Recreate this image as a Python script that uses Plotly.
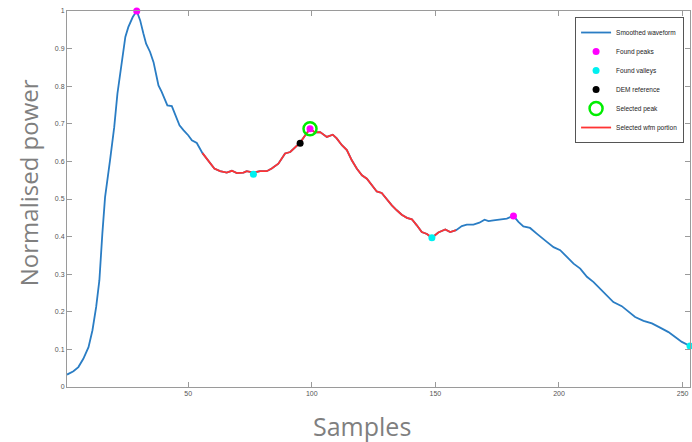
import plotly.graph_objects as go

# Smoothed waveform (sample index, normalised power)
samples = [1.0, 3.6, 5.6, 7.6, 9.7, 11.3, 12.8, 14.1, 15.3, 16.4, 18.4, 20.1, 21.4, 23.2,
           24.6, 25.8, 27.6, 29.2, 30.6, 31.9, 33.0, 34.6, 36.0, 37.0, 38.0, 39.3, 40.7,
           41.6, 43.4, 44.7, 46.5, 48.1, 50.1, 51.5, 53.5, 55.8, 58.2, 60.6, 62.9, 65.6,
           67.7, 69.7, 72.4, 73.7, 76.4, 79.1, 81.8, 83.8, 86.5, 89.2, 91.3, 93.3, 95.3,
           97.3, 99.3, 101.3, 103.4, 106.1, 108.5, 110.1, 112.2, 114.2, 116.2, 118.2,
           120.3, 122.3, 124.3, 126.3, 128.3, 130.4, 132.4, 134.4, 136.4, 138.5, 140.5,
           142.5, 144.5, 146.6, 148.6, 151.2, 154.0, 156.0, 158.4, 160.7, 162.7, 165.4,
           167.8, 169.9, 171.5, 173.5, 176.2, 178.9, 181.6, 183.6, 185.6, 188.3, 191.0,
           193.7, 195.1, 197.8, 200.5, 203.2, 205.9, 208.6, 211.3, 214.0, 216.7, 219.4,
           222.0, 225.4, 228.1, 230.8, 234.2, 237.6, 240.9, 244.3, 247.0, 249.7, 253.0]
power = [0.033, 0.042, 0.053, 0.075, 0.106, 0.151, 0.213, 0.284, 0.408, 0.505, 0.603, 0.691,
         0.780, 0.860, 0.931, 0.957, 0.984, 1.000, 0.975, 0.940, 0.913, 0.891, 0.864, 0.833,
         0.802, 0.785, 0.762, 0.749, 0.747, 0.727, 0.696, 0.683, 0.669, 0.656, 0.649, 0.622,
         0.603, 0.581, 0.574, 0.570, 0.575, 0.569, 0.570, 0.574, 0.570, 0.574, 0.574, 0.581,
         0.594, 0.621, 0.625, 0.638, 0.650, 0.669, 0.687, 0.677, 0.678, 0.665, 0.671, 0.661,
         0.643, 0.630, 0.603, 0.581, 0.563, 0.554, 0.536, 0.520, 0.516, 0.498, 0.483, 0.470,
         0.458, 0.450, 0.446, 0.430, 0.412, 0.407, 0.397, 0.411, 0.419, 0.412, 0.417, 0.428,
         0.432, 0.432, 0.437, 0.445, 0.441, 0.443, 0.445, 0.448, 0.455, 0.439, 0.427, 0.423,
         0.408, 0.395, 0.386, 0.372, 0.364, 0.346, 0.328, 0.315, 0.293, 0.279, 0.262, 0.244,
         0.226, 0.215, 0.200, 0.186, 0.176, 0.169, 0.158, 0.146, 0.133, 0.120, 0.109]

peaks_x = [29.2, 99.3, 181.6]
peaks_y = [1.0, 0.687, 0.455]
valleys_x = [76.4, 148.6, 253.0]
valleys_y = [0.566, 0.397, 0.109]
dem_x = [95.3]
dem_y = [0.648]
sel_peak_x = [99.3]
sel_peak_y = [0.687]
portion_start = 55.8
portion_end = 158.4

x_ticks = [50, 100, 150, 200, 250]
y_ticks = [0, 0.1, 0.2, 0.3, 0.4, 0.5, 0.6, 0.7, 0.8, 0.9, 1]
y_tick_text = ["0", "0.1", "0.2", "0.3", "0.4", "0.5", "0.6", "0.7", "0.8", "0.9", "1"]

red_x = [s for s in samples if portion_start <= s <= portion_end]
red_y = [p for s, p in zip(samples, power) if portion_start <= s <= portion_end]

fig = go.Figure()
fig.add_trace(go.Scatter(x=samples, y=power, mode="lines", name="Smoothed waveform",
                         line=dict(color="#2a7dc4", width=1.8), legendrank=1))
fig.add_trace(go.Scatter(x=red_x, y=red_y, mode="lines", name="Selected wfm portion",
                         line=dict(color="#ff3333", width=1.8), legendrank=6))
fig.add_trace(go.Scatter(x=peaks_x, y=peaks_y, mode="markers", name="Found peaks",
                         marker=dict(color="#ff00ff", size=7), cliponaxis=False, legendrank=2))
fig.add_trace(go.Scatter(x=valleys_x, y=valleys_y, mode="markers", name="Found valleys",
                         marker=dict(color="#00f0f0", size=7), cliponaxis=False, legendrank=3))
fig.add_trace(go.Scatter(x=dem_x, y=dem_y, mode="markers", name="DEM reference",
                         marker=dict(color="#000000", size=7), cliponaxis=False, legendrank=4))
fig.add_trace(go.Scatter(x=sel_peak_x, y=sel_peak_y, mode="markers", name="Selected peak",
                         marker=dict(color="#00ee00", size=13, symbol="circle-open",
                                     line=dict(width=2.5)),
                         cliponaxis=False, legendrank=5))

axis_common = dict(showline=True, linecolor="#9a9a9a", linewidth=1, mirror="ticks",
                   ticks="inside", ticklen=5, tickcolor="#9a9a9a", showgrid=False,
                   zeroline=False, tickfont=dict(family="Liberation Sans, Arial", size=7,
                                                 color="#555555"))

fig.update_layout(
    width=692, height=442,
    margin=dict(l=67, r=2, t=11, b=55, autoexpand=False),
    paper_bgcolor="white", plot_bgcolor="white",
    xaxis=dict(range=[1, 253], tickvals=x_ticks, **axis_common),
    yaxis=dict(range=[0, 1], tickvals=y_ticks, ticktext=y_tick_text, **axis_common),
    showlegend=True,
    legend=dict(x=0.9905, y=0.984, xanchor="right", yanchor="top",
                bgcolor="white", bordercolor="#555555", borderwidth=1,
                font=dict(family="Liberation Sans, Arial", size=6.5, color="#222222")),
    annotations=[
        dict(text="Normalised power", xref="paper", yref="paper", x=-0.062, y=0.543,
             textangle=-90, showarrow=False, xanchor="center", yanchor="middle",
             font=dict(family="Open Sans, Liberation Sans", size=24, color="#7f7f7f")),
        dict(text="Samples", xref="paper", yref="paper", x=0.4735, y=-0.105,
             showarrow=False, xanchor="center", yanchor="middle",
             font=dict(family="Open Sans, Liberation Sans", size=25, color="#7f7f7f")),
    ],
)

fig.write_html(
    "out.html",
    config={"displayModeBar": False},
    post_script="document.body.style.margin='0';"
                "document.documentElement.style.overflow='hidden';",
)
